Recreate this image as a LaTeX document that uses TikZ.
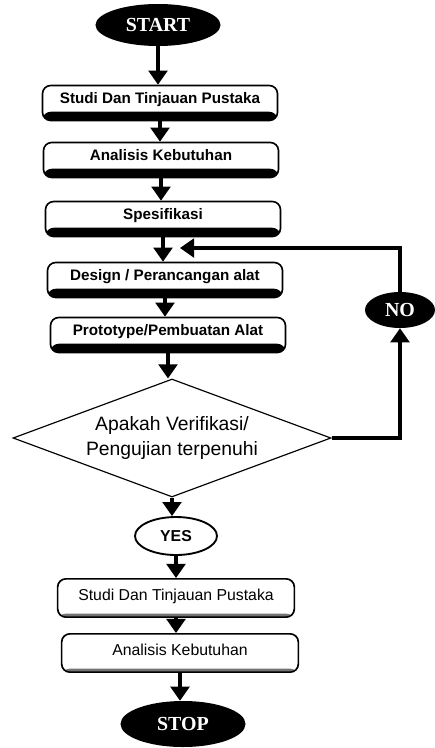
\documentclass[tikz,border=0pt]{standalone}
\usepackage{fontspec}
\setmainfont{Liberation Sans}
\newfontfamily\termfont{Liberation Serif}
\usetikzlibrary{arrows.meta,shapes.geometric}

\begin{document}
\begin{tikzpicture}
[x=0.03cm,y=-0.03cm,
 >={Triangle[length=12pt,width=16pt]},
 flow/.style={line width=2.6pt},
 term/.style={ellipse,fill=black,text=white,inner sep=0pt,
   font=\termfont\bfseries\fontsize{17}{19}\selectfont},
 proc/.style={rectangle,rounded corners=7pt,draw,line width=1.4pt,
   minimum width=7.05cm,minimum height=1.05cm,text height=9pt,text depth=8pt,
   font=\bfseries\fontsize{13}{15}\selectfont,
   path picture={\fill ([yshift=7.5pt]path picture bounding box.south west)
     rectangle (path picture bounding box.south east);}},
 procl/.style={rectangle,rounded corners=7pt,draw,line width=1.4pt,
   minimum width=7.1cm,minimum height=1.15cm,text height=9pt,text depth=4pt,
   font=\fontsize{13.5}{15}\selectfont,
   path picture={\fill[black!55] ([yshift=3pt]path picture bounding box.south west)
     rectangle (path picture bounding box.south east);}},
 answer/.style={ellipse,draw,line width=1.6pt,minimum width=2.46cm,minimum height=1.14cm,
   inner sep=0pt,font=\bfseries\fontsize{13.5}{15}\selectfont},
 check/.style={diamond,draw,line width=1pt,aspect=2.7,inner sep=0pt,
   minimum width=9.54cm,minimum height=3.54cm,align=center,
   font=\fontsize{16.5}{21}\selectfont}]
\useasboundingbox (0,0) rectangle (434,748);
% terminals
\node[term,minimum width=3.75cm,minimum height=1.26cm] (start) at (158,25) {START};
\node[term,minimum width=3.75cm,minimum height=1.38cm] (stop) at (183,724) {STOP};
\node[term,minimum width=2.1cm,minimum height=1.08cm] (no) at (400,310) {NO};
% steps
\node[proc] (studi) at (160,103) {Studi Dan Tinjauan Pustaka};
\node[proc] (analisis) at (161,160) {Analisis Kebutuhan};
\node[proc] (spek) at (163,219) {Spesifikasi};
\node[proc] (design) at (165,280) {Design / Perancangan alat};
\node[proc] (proto) at (168,335) {Prototype/Pembuatan Alat};
\node[check] (cek) at (172,438) {Apakah Verifikasi/\\Pengujian terpenuhi};
\node[answer] (yes) at (176,536) {YES};
\node[procl] (studi2) at (176,598) {Studi Dan Tinjauan Pustaka};
\node[procl] (analisis2) at (180,653) {Analisis Kebutuhan};
\coordinate (join) at (180,248);
% arrows
\draw[flow,->] (start.south) -- (start.south |- studi.north);
\draw[flow,->] (studi.south) -- (studi.south |- analisis.north);
\draw[flow,->] (analisis.south) -- (analisis.south |- spek.north);
\draw[flow,->] (spek.south) -- (spek.south |- design.north);
\draw[flow,->] (design.south) -- (design.south |- proto.north);
\draw[flow,->] (proto.south) -- (proto.south |- cek.north);
\draw[flow,->] (cek.south) -- (cek.south |- yes.north);
\draw[flow,->] (yes.south) -- (yes.south |- studi2.north);
\draw[flow,->] (studi2.south) -- (studi2.south |- analisis2.north);
\draw[flow,->] (analisis2.south) -- (analisis2.south |- stop.north);
% loop back
\draw[flow,->] (cek.east) -| (no.south);
\draw[flow,->] (no.north) |- (join);
\end{tikzpicture}
\end{document}
